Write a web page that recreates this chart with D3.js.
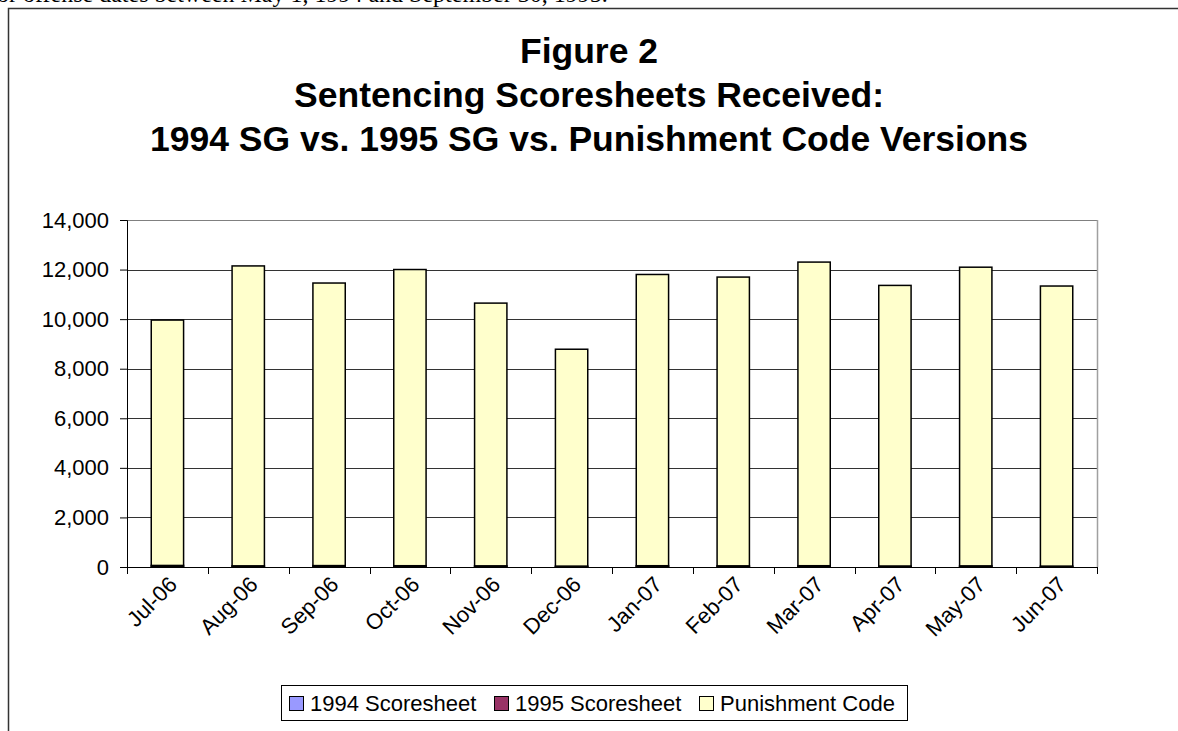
<!DOCTYPE html>
<html>
<head>
<meta charset="utf-8">
<script src="https://cdn.jsdelivr.net/npm/d3@7"></script>
<style>
  body { margin: 0; background: #fff; }
  svg { display: block; }
</style>
</head>
<body>
<div id="chart"></div>
<script>
(function () {

  var months = ["Jul-06", "Aug-06", "Sep-06", "Oct-06", "Nov-06", "Dec-06",
                "Jan-07", "Feb-07", "Mar-07", "Apr-07", "May-07", "Jun-07"];
  var sg1994 = [3, 2, 2, 2, 2, 1, 2, 2, 2, 1, 1, 1];
  var sg1995 = [60, 45, 55, 50, 45, 35, 50, 45, 50, 40, 45, 35];
  var punishment = [9900, 12100, 11400, 11950, 10600, 8750, 11750, 11650, 12250, 11320, 12050, 11300];
  var seriesNames = ["1994 Scoresheet", "1995 Scoresheet", "Punishment Code"];
  var seriesColors = ["#9999ff", "#993366", "#ffffcc"];
  var yTicks = [0, 2000, 4000, 6000, 8000, 10000, 12000, 14000];
  var titleLines = ["Figure 2", "Sentencing Scoresheets Received:",
                    "1994 SG vs. 1995 SG vs. Punishment Code Versions"];

  var w = 1178;
  var h = 731;

  var margin = { top: 220, bottom: 164, left: 127, right: 81 };
  var width = w - margin.left - margin.right;
  var height = h - margin.top - margin.bottom;

  var font = "Liberation Sans, Arial, sans-serif";

  var svg = d3.select("#chart")
    .append("svg")
    .attr("width", w)
    .attr("height", h);

  // line of document text above the chart, cut at the page edge
  svg.append("text")
    .attr("x", -11)
    .attr("y", 2)
    .attr("font-family", "Liberation Serif, Times New Roman, serif")
    .attr("font-size", 24)
    .style("fill", "#000")
    .text("for offense dates between May 1, 1994 and September 30, 1995.");

  // chart frame (left + top visible)
  svg.append("path")
    .attr("d", "M8.5," + h + " L8.5,8.5 L" + w + ",8.5")
    .attr("fill", "none")
    .attr("stroke", "#333")
    .attr("stroke-width", 1.5);

  svg.selectAll(".title")
    .data(titleLines)
    .enter()
    .append("text")
    .attr("class", "title")
    .attr("x", 589)
    .attr("y", function (d, i) { return 63 + i * 44; })
    .attr("text-anchor", "middle")
    .attr("font-family", font)
    .attr("font-weight", "bold")
    .attr("font-size", 35.5)
    .style("fill", "#000")
    .text(function (d) { return d; });

  var g = svg.append("g")
    .attr("transform", "translate(" + margin.left + "," + margin.top + ")");

  var x = d3.scaleBand()
    .domain(months)
    .range([0, width])
    .paddingInner(0.6)
    .paddingOuter(0.3);

  var y = d3.scaleLinear()
    .domain([0, 14000])
    .range([height, 0]);

  // gridlines
  g.selectAll(".grid")
    .data(yTicks)
    .enter()
    .append("line")
    .attr("x1", 0)
    .attr("x2", width)
    .attr("y1", function (d) { return Math.round(y(d)) + 0.5; })
    .attr("y2", function (d) { return Math.round(y(d)) + 0.5; })
    .attr("stroke", function (d) { return d === 14000 ? "#808080" : "#333"; })
    .attr("stroke-width", 1);

  // plot area right edge
  g.append("line")
    .attr("x1", width + 0.5)
    .attr("x2", width + 0.5)
    .attr("y1", 0)
    .attr("y2", height)
    .attr("stroke", "#a0a0a0")
    .attr("stroke-width", 1.5);

  var table = months.map(function (m, i) {
    return { month: m, s0: sg1994[i], s1: sg1995[i], s2: punishment[i] };
  });
  var stack = d3.stack().keys(["s0", "s1", "s2"])(table);

  g.selectAll(".series")
    .data(stack)
    .enter()
    .append("g")
    .attr("fill", function (d, i) { return seriesColors[i]; })
    .selectAll("rect")
    .data(function (d) { return d; })
    .enter()
    .append("rect")
    .attr("x", function (d) { return x(d.data.month); })
    .attr("y", function (d) { return y(d[1]); })
    .attr("width", x.bandwidth())
    .attr("height", function (d) { return Math.max(0, y(d[0]) - y(d[1])); })
    .attr("stroke", "#000")
    .attr("stroke-width", 1.5);

  // y axis
  var yAxis = g.append("g")
    .call(d3.axisLeft(y).tickValues(yTicks).tickSize(7).tickPadding(11)
      .tickFormat(d3.format(",")));
  yAxis.select(".domain").attr("stroke", "#000");
  yAxis.selectAll("text")
    .attr("font-family", font)
    .attr("font-size", 22)
    .attr("fill", "#000");

  // x axis with ticks between categories
  var xAxis = g.append("g")
    .attr("transform", "translate(0," + height + ")");
  xAxis.append("line")
    .attr("x1", 0).attr("x2", width)
    .attr("y1", 0.5).attr("y2", 0.5)
    .attr("stroke", "#000");
  xAxis.selectAll(".xt")
    .data(d3.range(months.length + 1))
    .enter()
    .append("line")
    .attr("x1", function (d) { return Math.round(d * x.step() + x.step() * 0) + 0.5; })
    .attr("x2", function (d) { return Math.round(d * x.step()) + 0.5; })
    .attr("y1", 0)
    .attr("y2", 7)
    .attr("stroke", "#000");

  xAxis.selectAll(".xl")
    .data(months)
    .enter()
    .append("text")
    .attr("transform", function (d) {
      var cx = x(d) + x.bandwidth() / 2;
      return "translate(" + cx + ",8) rotate(-45)";
    })
    .attr("text-anchor", "end")
    .attr("dy", "0.7em")
    .attr("font-family", font)
    .attr("font-size", 22)
    .attr("fill", "#000")
    .text(function (d) { return d; });

  // legend
  var legend = svg.append("g").attr("transform", "translate(281,685)");
  legend.append("rect")
    .attr("x", 0.5).attr("y", 0.5)
    .attr("width", 626).attr("height", 35)
    .attr("fill", "#fff")
    .attr("stroke", "#000");

  var items = legend.selectAll(".item")
    .data(seriesNames)
    .enter()
    .append("g")
    .attr("transform", function (d, i) { return "translate(" + (8 + i * 205) + ",0)"; });
  items.append("rect")
    .attr("x", 0.5).attr("y", 11.5)
    .attr("width", 14).attr("height", 14)
    .attr("fill", function (d, i) { return seriesColors[i]; })
    .attr("stroke", "#000");
  items.append("text")
    .attr("x", 21)
    .attr("y", 26)
    .attr("font-family", font)
    .attr("font-size", 22)
    .attr("fill", "#000")
    .text(function (d) { return d; });

})();
</script>
</body>
</html>
